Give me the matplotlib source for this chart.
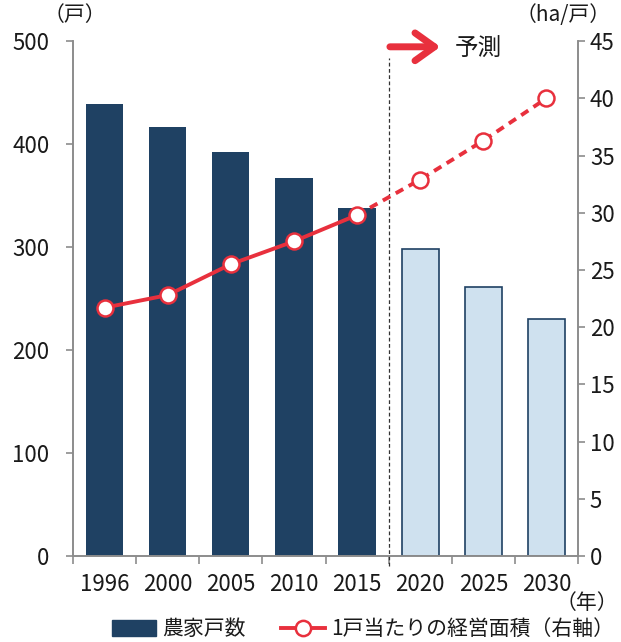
import matplotlib.pyplot as plt
from matplotlib.lines import Line2D
from matplotlib.patches import Patch

plt.rcParams['font.family'] = ['Noto Sans CJK JP', 'DejaVu Sans']

years = ["1996", "2000", "2005", "2010", "2015", "2020", "2025", "2030"]
farms = [439, 417, 392, 367, 338, 298, 261, 230]           # 戸
area = [21.7, 22.8, 25.5, 27.5, 29.8, 32.9, 36.3, 40.0]    # ha/戸
n_actual = 5  # 2015 までが実績、以降は予測

dark = "#1f4163"
light = "#cfe1ef"
red = "#e8303d"
gray = "#8c8c8c"
ink = "#1a1a1a"

fig = plt.figure(figsize=(6.21, 6.42), dpi=100)
ax = fig.add_axes([0.1176, 0.134, 0.8132, 0.802])
ax2 = ax.twinx()

x = list(range(len(years)))
ax.bar(x[:n_actual], farms[:n_actual], width=0.59, color=dark, zorder=2)
ax.bar(x[n_actual:], farms[n_actual:], width=0.59, color=light,
       edgecolor=dark, linewidth=1.2, zorder=2)

ax.set_xlim(-0.5, len(years) - 0.5)
ax.set_ylim(0, 500)
ax.set_yticks(range(0, 501, 100))
ax2.set_ylim(0, 45)
ax2.set_yticks(range(0, 46, 5))

# 実績（実線）と予測（破線）
ax2.plot(x[:n_actual], area[:n_actual], color=red, lw=2.8, zorder=3)
ax2.plot(x[n_actual - 1:], area[n_actual - 1:], color=red, lw=2.8,
         dashes=(2.2, 1.6), zorder=3)
ax2.plot(x, area, ls="none", marker="o", ms=11.5, mfc="white", mec=red,
         mew=1.8, zorder=4)

# 予測の境界線
ax2.plot([n_actual - 0.5] * 2, [-0.9, 43.5], color="#333333", lw=0.9,
         ls=(0, (3, 2)), clip_on=False, zorder=1)
ax2.annotate("", xy=(n_actual + 0.32, 44.5), xytext=(n_actual - 0.48, 44.5),
             arrowprops=dict(arrowstyle="->,head_length=0.7,head_width=0.5",
                             color=red, lw=5, mutation_scale=20,
                             shrinkA=0, shrinkB=0),
             annotation_clip=False)
ax2.text(n_actual + 0.55, 44.3, "予測", fontsize=17, va="center", ha="left",
         color=ink)

for a in (ax, ax2):
    a.spines["top"].set_visible(False)
    for s in ("left", "right", "bottom"):
        a.spines[s].set_color(gray)
        a.spines[s].set_linewidth(1.2)
    a.tick_params(axis="y", colors=gray, labelcolor=ink, labelsize=16,
                  length=5, width=1.2)
ax.tick_params(axis="y", pad=12)

ax.set_xticks(x)
ax.set_xticklabels(years)
ax.set_xticks([i - 0.5 for i in range(len(years) + 1)], minor=True)
ax.tick_params(axis="x", which="major", length=0, labelsize=16, pad=12,
               labelcolor=ink)
ax.tick_params(axis="x", which="minor", length=6, width=1.2, color=gray)

ax.text(0.003, 1.03, "（戸）", transform=ax.transAxes, fontsize=15,
        ha="center", va="bottom", color=ink)
ax.text(0.97, 1.03, "（ha/戸）", transform=ax.transAxes, fontsize=15,
        ha="center", va="bottom", color=ink)
fig.text(0.995, 0.061, "（年）", fontsize=15, ha="right", va="center", color=ink)

handles = [
    Patch(facecolor=dark, edgecolor=dark),
    Line2D([], [], color=red, lw=2.8, marker="o", ms=11, mfc="white",
           mec=red, mew=1.8),
]
labels = ["農家戸数", "1戸当たりの経営面積（右軸）"]
fig.legend(handles, labels, loc="center", bbox_to_anchor=(0.585, 0.02),
           ncol=2, frameon=False, fontsize=15, handlelength=2.1,
           handleheight=0.75, columnspacing=1.7, handletextpad=0.3,
           labelcolor=ink)

fig.savefig("out.png", dpi=100)
